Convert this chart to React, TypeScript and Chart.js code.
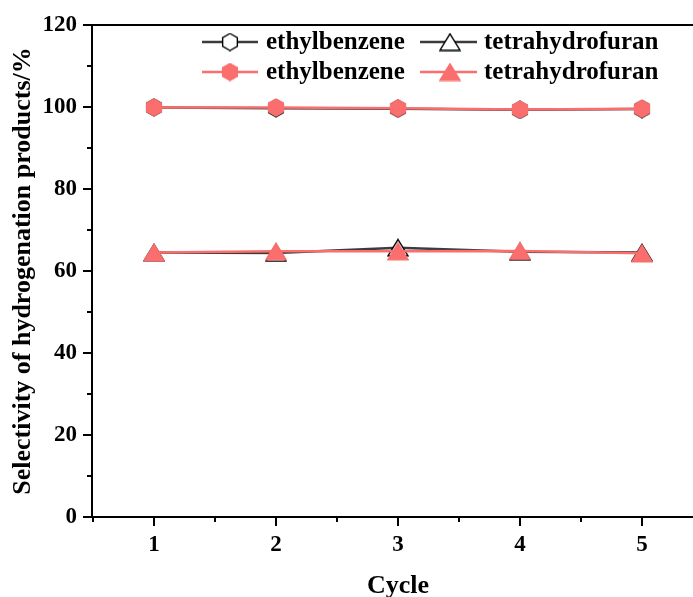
import React, { useEffect, useRef } from 'react';
import { Chart, registerables } from 'chart.js';
Chart.register(...registerables);

const cycles = [1, 2, 3, 4, 5];
const ebBlack = [99.9, 99.7, 99.6, 99.3, 99.5];
const thfBlack = [64.5, 64.4, 65.7, 64.7, 64.5];
const ebRed = [99.9, 99.9, 99.7, 99.4, 99.6];
const thfRed = [64.5, 64.8, 64.8, 64.9, 64.3];
const seriesLabels = ['ethylbenzene', 'tetrahydrofuran', 'ethylbenzene', 'tetrahydrofuran'];
const yTicks = [0, 20, 40, 60, 80, 100, 120];
const yMinor = [10, 30, 50, 70, 90, 110];
const xMinor = [0.5, 1.5, 2.5, 3.5, 4.5, 5.5];
const xTitle = 'Cycle';
const yTitle = 'Selectivity of hydrogenation products/%';

const RED = 'rgb(250,110,110)';
const DARK = '#3c3c3c';
const FONT = "'Liberation Serif', 'Times New Roman', serif";
const CW = 703;
const CH = 597;

function makeMarker(shape: 'hex' | 'tri', fill: string, stroke: string) {
  const c = document.createElement('canvas');
  const w = shape === 'hex' ? 18 : 22;
  const h = 19;
  c.width = w;
  c.height = h;
  const ctx = c.getContext('2d')!;
  ctx.beginPath();
  if (shape === 'hex') {
    const R = 8.5, cx = w / 2, cy = h / 2;
    for (let i = 0; i < 6; i++) {
      const a = (Math.PI / 3) * i;
      const px = cx + R * Math.sin(a);
      const py = cy - R * Math.cos(a);
      if (i === 0) ctx.moveTo(px, py); else ctx.lineTo(px, py);
    }
  } else {
    const cx = w / 2;
    ctx.moveTo(cx, 1.3);
    ctx.lineTo(cx + 10, 17.7);
    ctx.lineTo(cx - 10, 17.7);
  }
  ctx.closePath();
  ctx.fillStyle = fill;
  ctx.fill();
  ctx.lineWidth = 1.4;
  ctx.strokeStyle = stroke;
  ctx.stroke();
  return c;
}

const noPad = (s: any) => {
  s.paddingTop = 0;
  s.paddingBottom = 0;
  s.paddingLeft = 0;
  s.paddingRight = 0;
};

export default function App() {
  const ref = useRef<HTMLCanvasElement | null>(null);

  useEffect(() => {
    const canvas = ref.current;
    if (!canvas) return;
    const hexOpen = makeMarker('hex', '#ffffff', '#000000');
    const triOpen = makeMarker('tri', '#ffffff', '#000000');
    const hexRed = makeMarker('hex', RED, RED);
    const triRed = makeMarker('tri', RED, RED);
    const markers = [hexOpen, triOpen, hexRed, triRed];
    const lineColors = [DARK, DARK, RED, RED];

    const toPts = (arr: number[]) => cycles.map((c, i) => ({ x: c, y: arr[i] }));

    const decor = {
      id: 'decor',
      afterDraw(chart: any) {
        const { ctx, chartArea: a, scales } = chart;
        const xs = scales.x, ys = scales.y;
        const line = (x1: number, y1: number, x2: number, y2: number) => {
          ctx.beginPath();
          ctx.moveTo(x1, y1);
          ctx.lineTo(x2, y2);
          ctx.stroke();
        };
        ctx.save();
        ctx.strokeStyle = '#000';
        ctx.lineWidth = 2;
        line(a.left - 1, a.top, a.right, a.top);
        line(a.left - 1, a.top, a.left - 1, a.bottom);
        line(a.left - 1, a.bottom, a.right, a.bottom);
        yTicks.forEach((v) => {
          const py = ys.getPixelForValue(v);
          line(a.left - 10, py, a.left, py);
        });
        yMinor.forEach((v) => {
          const py = ys.getPixelForValue(v);
          line(a.left - 6, py, a.left, py);
        });
        cycles.forEach((v) => {
          const px = xs.getPixelForValue(v);
          line(px, a.bottom, px, a.bottom + 9);
        });
        xMinor.forEach((v) => {
          const px = xs.getPixelForValue(v);
          line(px, a.bottom, px, a.bottom + 5);
        });

        const cols = [
          { x0: 202, x1: 258, mx: 230, tx: 266 },
          { x0: 420, x1: 477, mx: 450, tx: 484 },
        ];
        const rows = [42, 72];
        ctx.font = `bold 25px ${FONT}`;
        ctx.textBaseline = 'middle';
        ctx.textAlign = 'left';
        for (let i = 0; i < 4; i++) {
          const c = cols[i % 2];
          const ry = rows[Math.floor(i / 2)];
          ctx.strokeStyle = lineColors[i];
          ctx.lineWidth = 2.5;
          line(c.x0, ry, c.x1, ry);
          const m = markers[i];
          ctx.drawImage(m, c.mx - m.width / 2, ry - m.height / 2);
          ctx.fillStyle = '#000';
          ctx.fillText(seriesLabels[i], c.tx, ry + 1);
        }
        ctx.restore();
      },
    };

    const chart = new Chart(canvas, {
      type: 'line',
      data: {
        datasets: [
          { label: seriesLabels[0], data: toPts(ebBlack), borderColor: DARK, borderWidth: 2.5, pointStyle: hexOpen as any, pointRadius: 8, order: 2 },
          { label: seriesLabels[1], data: toPts(thfBlack), borderColor: DARK, borderWidth: 2.5, pointStyle: triOpen as any, pointRadius: 8, order: 2 },
          { label: seriesLabels[2], data: toPts(ebRed), borderColor: RED, borderWidth: 2.5, pointStyle: hexRed as any, pointRadius: 8, order: 1 },
          { label: seriesLabels[3], data: toPts(thfRed), borderColor: RED, borderWidth: 2.5, pointStyle: triRed as any, pointRadius: 8, order: 1 },
        ],
      },
      options: {
        responsive: false,
        maintainAspectRatio: false,
        animation: false,
        devicePixelRatio: 1,
        layout: { autoPadding: false, padding: { top: 25, right: 0, left: 0, bottom: 0 } },
        plugins: { legend: { display: false }, tooltip: { enabled: false } },
        scales: {
          x: {
            type: 'linear',
            min: 0.5,
            max: 5.5,
            afterBuildTicks: (s: any) => { s.ticks = cycles.map((v) => ({ value: v })); },
            afterFit: (s: any) => { s.height = 80; noPad(s); },
            grid: { display: false, drawTicks: false },
            border: { display: false },
            ticks: { padding: 14, color: '#000', font: { family: FONT, size: 23, weight: 'bold' } },
            title: { display: true, text: xTitle, color: '#000', padding: { top: 0, bottom: -5 }, font: { family: FONT, size: 26, weight: 'bold' } },
          },
          y: {
            type: 'linear',
            min: 0,
            max: 120,
            afterBuildTicks: (s: any) => { s.ticks = yTicks.map((v) => ({ value: v })); },
            afterFit: (s: any) => { s.width = 93; noPad(s); },
            grid: { display: false, drawTicks: false },
            border: { display: false },
            ticks: { padding: 16, color: '#000', font: { family: FONT, size: 23, weight: 'bold' } },
            title: { display: true, text: yTitle, color: '#000', padding: { top: 8, bottom: 0 }, font: { family: FONT, size: 26, weight: 'bold' } },
          },
        },
      } as any,
      plugins: [decor],
    });
    return () => chart.destroy();
  }, []);

  return (
    <div style={{ position: 'fixed', left: 0, top: 0, width: 693, height: 597, overflow: 'hidden', background: '#fff' }}>
      <canvas ref={ref} width={CW} height={CH} style={{ display: 'block', width: CW + 'px', height: CH + 'px' }} />
    </div>
  );
}
